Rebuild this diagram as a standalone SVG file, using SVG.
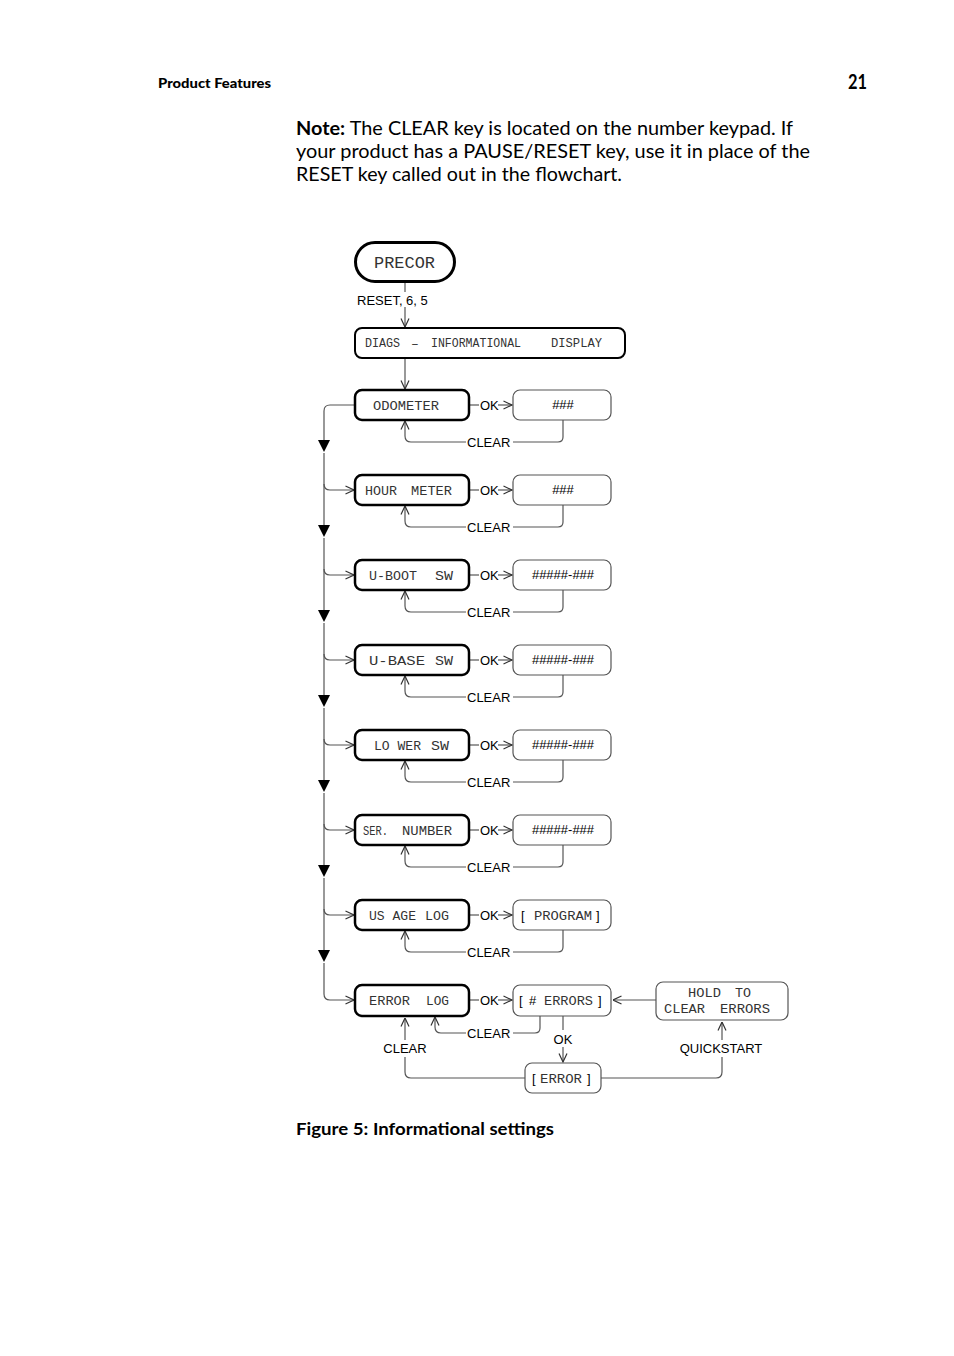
<svg xmlns="http://www.w3.org/2000/svg" width="954" height="1356" viewBox="0 0 954 1356">
<style>
.hdr{font-family:Lato,"Liberation Sans",sans-serif;font-weight:bold;fill:#000}
.body{font-family:Lato,"Liberation Sans",sans-serif;font-size:19px;fill:#000}
.lcd{font-family:"Liberation Mono","DejaVu Sans Mono",monospace;font-size:13px;fill:#333}
.lbl{font-family:"Liberation Sans",Arial,sans-serif;font-size:13px;fill:#000}
.main{fill:#fff;stroke:#000;stroke-width:2.5}
.sub{fill:#fff;stroke:#555;stroke-width:1.2}
.c{fill:none;stroke:#555;stroke-width:1.2}
.tri{fill:#000}
</style>
<defs>
<marker id="a" viewBox="0 0 10 10" refX="9.5" refY="5" markerWidth="10" markerHeight="10" markerUnits="userSpaceOnUse" orient="auto">
<path d="M1,1 L9.5,5 L1,9" fill="none" stroke="#333" stroke-width="1.2"/>
</marker>
</defs>
<rect width="954" height="1356" fill="#fff"/>
<g id="header">
<text class="hdr" x="158" y="88" style="font-size:13.5px;font-weight:900" textLength="113" lengthAdjust="spacingAndGlyphs">Product Features</text>
<text class="hdr" x="848" y="89" style="font-size:20px" textLength="19" lengthAdjust="spacingAndGlyphs">21</text>
</g>
<g id="note">
<text class="body" x="296" y="135" textLength="497" lengthAdjust="spacingAndGlyphs"><tspan font-weight="bold">Note:</tspan> The CLEAR key is located on the number keypad. If</text>
<text class="body" x="296" y="158" textLength="514" lengthAdjust="spacingAndGlyphs">your product has a PAUSE/RESET key, use it in place of the</text>
<text class="body" x="296" y="181" textLength="326" lengthAdjust="spacingAndGlyphs">RESET key called out in the flowchart.</text>
</g>
<g id="connectors">
<path class="c" d="M405,282 V292"/>
<path class="c" d="M405,307 V327" marker-end="url(#a)"/>
<path class="c" d="M405,358 V389" marker-end="url(#a)"/>
<path class="c" d="M355,405 H330 q-6 0 -6 6 V440"/>
<path class="c" d="M324,453 V525"/>
<path class="c" d="M324,538 V610"/>
<path class="c" d="M324,623 V695"/>
<path class="c" d="M324,708 V780"/>
<path class="c" d="M324,793 V865"/>
<path class="c" d="M324,878 V950"/>
<path class="c" d="M324,963 V994 q0 6 6 6 H354" marker-end="url(#a)"/>
<path class="c" d="M324,484 q0 6 6 6 H354" marker-end="url(#a)"/>
<path class="c" d="M324,569 q0 6 6 6 H354" marker-end="url(#a)"/>
<path class="c" d="M324,654 q0 6 6 6 H354" marker-end="url(#a)"/>
<path class="c" d="M324,739 q0 6 6 6 H354" marker-end="url(#a)"/>
<path class="c" d="M324,824 q0 6 6 6 H354" marker-end="url(#a)"/>
<path class="c" d="M324,909 q0 6 6 6 H354" marker-end="url(#a)"/>
<path class="tri" d="M318,440 H330 L324,452 Z"/>
<path class="tri" d="M318,525 H330 L324,537 Z"/>
<path class="tri" d="M318,610 H330 L324,622 Z"/>
<path class="tri" d="M318,695 H330 L324,707 Z"/>
<path class="tri" d="M318,780 H330 L324,792 Z"/>
<path class="tri" d="M318,865 H330 L324,877 Z"/>
<path class="tri" d="M318,950 H330 L324,962 Z"/>
<g id="row-links">
<path class="c" d="M470,405 H479"/><path class="c" d="M498,405 H512" marker-end="url(#a)"/>
<path class="c" d="M563,420 V437 q0 5 -5 5 H513"/><path class="c" d="M466,442 H411 q-6 0 -6 -6 V421" marker-end="url(#a)"/>
<path class="c" d="M470,490 H479"/><path class="c" d="M498,490 H512" marker-end="url(#a)"/>
<path class="c" d="M563,505 V522 q0 5 -5 5 H513"/><path class="c" d="M466,527 H411 q-6 0 -6 -6 V506" marker-end="url(#a)"/>
<path class="c" d="M470,575 H479"/><path class="c" d="M498,575 H512" marker-end="url(#a)"/>
<path class="c" d="M563,590 V607 q0 5 -5 5 H513"/><path class="c" d="M466,612 H411 q-6 0 -6 -6 V591" marker-end="url(#a)"/>
<path class="c" d="M470,660 H479"/><path class="c" d="M498,660 H512" marker-end="url(#a)"/>
<path class="c" d="M563,675 V692 q0 5 -5 5 H513"/><path class="c" d="M466,697 H411 q-6 0 -6 -6 V676" marker-end="url(#a)"/>
<path class="c" d="M470,745 H479"/><path class="c" d="M498,745 H512" marker-end="url(#a)"/>
<path class="c" d="M563,760 V777 q0 5 -5 5 H513"/><path class="c" d="M466,782 H411 q-6 0 -6 -6 V761" marker-end="url(#a)"/>
<path class="c" d="M470,830 H479"/><path class="c" d="M498,830 H512" marker-end="url(#a)"/>
<path class="c" d="M563,845 V862 q0 5 -5 5 H513"/><path class="c" d="M466,867 H411 q-6 0 -6 -6 V846" marker-end="url(#a)"/>
<path class="c" d="M470,915 H479"/><path class="c" d="M498,915 H512" marker-end="url(#a)"/>
<path class="c" d="M563,930 V947 q0 5 -5 5 H513"/><path class="c" d="M466,952 H411 q-6 0 -6 -6 V931" marker-end="url(#a)"/>
<path class="c" d="M470,1000 H479"/><path class="c" d="M498,1000 H512" marker-end="url(#a)"/>
<path class="c" d="M540,1016 V1028 q0 5 -5 5 H513"/><path class="c" d="M466,1033 H441 q-6 0 -6 -6 V1017" marker-end="url(#a)"/>
<path class="c" d="M563,1016 V1030"/><path class="c" d="M563,1047 V1062" marker-end="url(#a)"/>
<path class="c" d="M525,1078 H411 q-6 0 -6 -6 V1057"/><path class="c" d="M405,1040 V1018" marker-end="url(#a)"/>
<path class="c" d="M601,1078 H716 q6 0 6 -6 V1057"/><path class="c" d="M722,1040 V1022" marker-end="url(#a)"/>
<path class="c" d="M656,1000 H613" marker-end="url(#a)"/>
</g>
<g id="labels">
<text class="lbl" x="357" y="305">RESET, 6, 5</text>
<text class="lbl" x="480" y="410">OK</text><text class="lbl" x="467" y="447">CLEAR</text>
<text class="lbl" x="480" y="495">OK</text><text class="lbl" x="467" y="532">CLEAR</text>
<text class="lbl" x="480" y="580">OK</text><text class="lbl" x="467" y="617">CLEAR</text>
<text class="lbl" x="480" y="665">OK</text><text class="lbl" x="467" y="702">CLEAR</text>
<text class="lbl" x="480" y="750">OK</text><text class="lbl" x="467" y="787">CLEAR</text>
<text class="lbl" x="480" y="835">OK</text><text class="lbl" x="467" y="872">CLEAR</text>
<text class="lbl" x="480" y="920">OK</text><text class="lbl" x="467" y="957">CLEAR</text>
<text class="lbl" x="480" y="1005">OK</text><text class="lbl" x="467" y="1038">CLEAR</text>
<text class="lbl" x="563" y="1044" text-anchor="middle">OK</text>
<text class="lbl" x="405" y="1053" text-anchor="middle">CLEAR</text>
<text class="lbl" x="721" y="1053" text-anchor="middle">QUICKSTART</text>
</g>
</g>
<g id="precor">
<rect x="355.5" y="242.5" width="99" height="39" rx="19.5" fill="#fff" stroke="#000" stroke-width="3"/>
<text class="lcd" x="374" y="268" style="font-size:17px" textLength="61" lengthAdjust="spacingAndGlyphs">PRECOR</text>
</g>
<g id="diags">
<rect x="355" y="328" width="270" height="30" rx="7" fill="#fff" stroke="#000" stroke-width="2"/>
<text class="lcd" x="365" y="347" textLength="35" lengthAdjust="spacingAndGlyphs">DIAGS</text>
<text class="lcd" x="411" y="348">–</text>
<text class="lcd" x="431" y="347" textLength="90" lengthAdjust="spacingAndGlyphs">INFORMATIONAL</text>
<text class="lcd" x="551" y="347" textLength="51" lengthAdjust="spacingAndGlyphs">DISPLAY</text>
</g>
<g id="odometer">
<rect class="main" x="355" y="390" width="114" height="30" rx="7"/>
<text class="lcd" x="373" y="410" textLength="66" lengthAdjust="spacingAndGlyphs">ODOMETER</text>
</g>
<g id="odometer-val">
<rect class="sub" x="513" y="390" width="98" height="30" rx="7"/>
<text class="lbl" x="563" y="409" text-anchor="middle">###</text>
</g>
<g id="hour-meter">
<rect class="main" x="355" y="475" width="114" height="30" rx="7"/>
<text class="lcd" x="365" y="495" textLength="32" lengthAdjust="spacingAndGlyphs">HOUR</text>
<text class="lcd" x="411" y="495" textLength="41" lengthAdjust="spacingAndGlyphs">METER</text>
</g>
<g id="hour-meter-val">
<rect class="sub" x="513" y="475" width="98" height="30" rx="7"/>
<text class="lbl" x="563" y="494" text-anchor="middle">###</text>
</g>
<g id="u-boot">
<rect class="main" x="355" y="560" width="114" height="30" rx="7"/>
<text class="lcd" x="369" y="580" textLength="48" lengthAdjust="spacingAndGlyphs">U-BOOT</text>
<text class="lcd" x="435" y="580" textLength="18" lengthAdjust="spacingAndGlyphs">SW</text>
</g>
<g id="u-boot-val">
<rect class="sub" x="513" y="560" width="98" height="30" rx="7"/>
<text class="lbl" x="563" y="579" text-anchor="middle">#####-###</text>
</g>
<g id="u-base">
<rect class="main" x="355" y="645" width="114" height="30" rx="7"/>
<text class="lcd" x="369" y="665" textLength="56" lengthAdjust="spacingAndGlyphs">U-BASE</text>
<text class="lcd" x="435" y="665" textLength="18" lengthAdjust="spacingAndGlyphs">SW</text>
</g>
<g id="u-base-val">
<rect class="sub" x="513" y="645" width="98" height="30" rx="7"/>
<text class="lbl" x="563" y="664" text-anchor="middle">#####-###</text>
</g>
<g id="lower-sw">
<rect class="main" x="355" y="730" width="114" height="30" rx="7"/>
<text class="lcd" x="374" y="750" textLength="47" lengthAdjust="spacingAndGlyphs">LO WER</text>
<text class="lcd" x="431" y="750" textLength="18" lengthAdjust="spacingAndGlyphs">SW</text>
</g>
<g id="lower-sw-val">
<rect class="sub" x="513" y="730" width="98" height="30" rx="7"/>
<text class="lbl" x="563" y="749" text-anchor="middle">#####-###</text>
</g>
<g id="ser-number">
<rect class="main" x="355" y="815" width="114" height="30" rx="7"/>
<text class="lcd" x="363" y="835" textLength="25" lengthAdjust="spacingAndGlyphs">SER.</text>
<text class="lcd" x="402" y="835" textLength="50" lengthAdjust="spacingAndGlyphs">NUMBER</text>
</g>
<g id="ser-number-val">
<rect class="sub" x="513" y="815" width="98" height="30" rx="7"/>
<text class="lbl" x="563" y="834" text-anchor="middle">#####-###</text>
</g>
<g id="usage-log">
<rect class="main" x="355" y="900" width="114" height="30" rx="7"/>
<text class="lcd" x="369" y="920" textLength="47" lengthAdjust="spacingAndGlyphs">US AGE</text>
<text class="lcd" x="425" y="920" textLength="24" lengthAdjust="spacingAndGlyphs">LOG</text>
</g>
<g id="usage-log-val">
<rect class="sub" x="513" y="900" width="98" height="30" rx="7"/>
<text class="lbl" x="521" y="920">[</text>
<text class="lcd" x="534" y="920" textLength="58" lengthAdjust="spacingAndGlyphs">PROGRAM</text>
<text class="lbl" x="596" y="920">]</text>
</g>
<g id="error-log">
<rect class="main" x="355" y="985" width="114" height="31" rx="7"/>
<text class="lcd" x="369" y="1005" textLength="41" lengthAdjust="spacingAndGlyphs">ERROR</text>
<text class="lcd" x="426" y="1005" textLength="23" lengthAdjust="spacingAndGlyphs">LOG</text>
</g>
<g id="errors-count">
<rect class="sub" x="513" y="985" width="98" height="31" rx="7"/>
<text class="lbl" x="519" y="1005">[</text>
<text class="lbl" x="529" y="1005">#</text>
<text class="lcd" x="544" y="1005" textLength="49" lengthAdjust="spacingAndGlyphs">ERRORS</text>
<text class="lbl" x="598" y="1005">]</text>
</g>
<g id="hold-clear">
<rect class="sub" x="656" y="982" width="132" height="38" rx="7"/>
<text class="lcd" x="688" y="997" textLength="33" lengthAdjust="spacingAndGlyphs">HOLD</text>
<text class="lcd" x="735" y="997" textLength="16" lengthAdjust="spacingAndGlyphs">TO</text>
<text class="lcd" x="664" y="1013" textLength="41" lengthAdjust="spacingAndGlyphs">CLEAR</text>
<text class="lcd" x="720" y="1013" textLength="50" lengthAdjust="spacingAndGlyphs">ERRORS</text>
</g>
<g id="error-item">
<rect class="sub" x="525" y="1063" width="76" height="30" rx="7"/>
<text class="lbl" x="532" y="1083">[</text>
<text class="lcd" x="540" y="1083" textLength="42" lengthAdjust="spacingAndGlyphs">ERROR</text>
<text class="lbl" x="587" y="1083">]</text>
</g>
<g id="caption">
<text class="hdr" x="296" y="1135" style="font-size:17px" textLength="258" lengthAdjust="spacingAndGlyphs">Figure 5: Informational settings</text>
</g>
</svg>
